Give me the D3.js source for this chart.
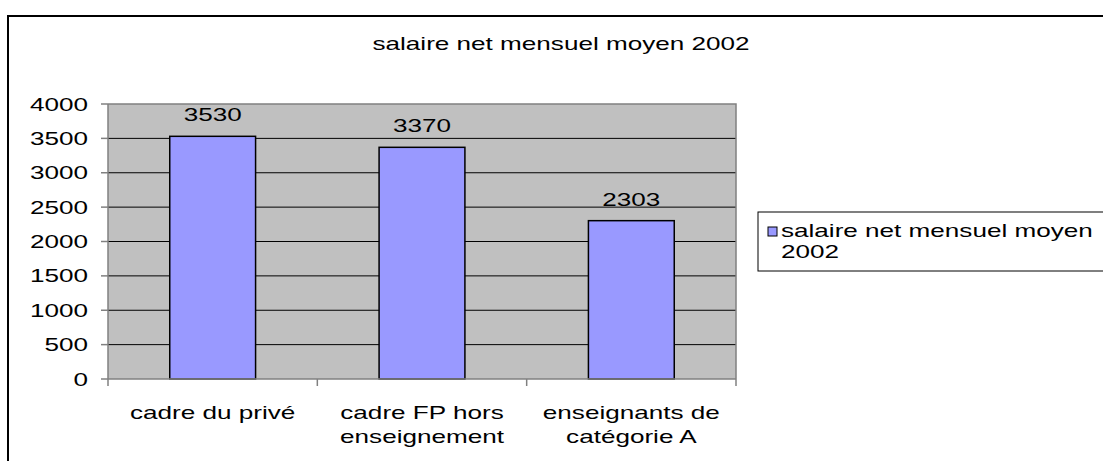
<!DOCTYPE html>
<html>
<head>
<meta charset="utf-8">
<script src="https://cdn.jsdelivr.net/npm/d3@7"></script>
<style>
  body { margin: 0; background: #fff; }
  text { font-family: "Liberation Sans", Arial, sans-serif; fill: #000; }
</style>
</head>
<body>
<div id="graph"></div>
<script>
var title = 'salaire net mensuel moyen 2002'
var categories = ['cadre du privé', 'cadre FP hors\nenseignement', 'enseignants de\ncatégorie A']
var values = [3530, 3370, 2303]
var yTicks = [0, 500, 1000, 1500, 2000, 2500, 3000, 3500, 4000]
var legendLines = ['salaire net mensuel moyen', '2002']

var SX = 1.45   // the original picture is stretched sideways
var FS = 18

var svg = d3.select('#graph').append('svg')
  .attr('width', 1103).attr('height', 461)

// outer chart border, runs off the right and bottom edge
svg.append('rect')
  .attr('x', 8).attr('y', 16).attr('width', 1200).attr('height', 500)
  .attr('fill', '#fff').attr('stroke', '#000').attr('stroke-width', 2)

function stext(g, x, y, str, anchor) {
  return g.append('text')
    .attr('transform', 'translate(' + x + ',' + y + ') scale(' + SX + ',1)')
    .attr('text-anchor', anchor || 'start')
    .style('font-size', FS + 'px')
    .text(str)
}

var x = d3.scaleBand().domain(categories).range([108, 736])
  .paddingInner(0.59).paddingOuter(0.295)
var y = d3.scaleLinear().domain([0, 4000]).range([379, 104])

// plot area
svg.append('rect')
  .attr('x', 108).attr('y', y(4000)).attr('width', 736 - 108).attr('height', y(0) - y(4000))
  .attr('fill', '#c0c0c0')

svg.selectAll('line.grid').data(yTicks.filter(d => d > 0 && d < 4000))
  .enter().append('line')
  .attr('x1', 108).attr('x2', 736)
  .attr('y1', d => y(d)).attr('y2', d => y(d))
  .attr('stroke', '#000').attr('stroke-width', 1)

// frame top and right
svg.append('path')
  .attr('d', 'M108,' + y(4000) + 'H736V' + y(0))
  .attr('fill', 'none').attr('stroke', '#808080').attr('stroke-width', 1.5)

// bars
svg.selectAll('rect.bar').data(values).enter().append('rect')
  .attr('class', 'bar')
  .attr('x', (d, i) => x(categories[i]))
  .attr('width', x.bandwidth())
  .attr('y', d => y(d))
  .attr('height', d => y(0) - y(d))
  .attr('fill', '#9999ff').attr('stroke', '#000').attr('stroke-width', 1.5)

// value labels
values.forEach((v, i) => {
  stext(svg, x(categories[i]) + x.bandwidth() / 2, y(v) - 15, v, 'middle')
})

// y axis
svg.append('line').attr('x1', 108).attr('x2', 108).attr('y1', y(4000)).attr('y2', y(0))
  .attr('stroke', '#808080').attr('stroke-width', 1.5)
yTicks.forEach(t => {
  svg.append('line').attr('x1', 101).attr('x2', 108).attr('y1', y(t)).attr('y2', y(t))
    .attr('stroke', '#808080').attr('stroke-width', 1.5)
  stext(svg, 88, y(t) + 6.5, t, 'end')
})

// x axis
svg.append('line').attr('x1', 108).attr('x2', 736).attr('y1', y(0)).attr('y2', y(0))
  .attr('stroke', '#808080').attr('stroke-width', 1.5)
var bounds = categories.map(c => x(c) - x.step() * x.paddingInner() / 2)
bounds.push(736)
bounds.forEach(b => {
  svg.append('line').attr('x1', b).attr('x2', b).attr('y1', y(0)).attr('y2', y(0) + 7)
    .attr('stroke', '#808080').attr('stroke-width', 1.5)
})
categories.forEach(c => {
  c.split('\n').forEach((line, j) => {
    stext(svg, x(c) + x.bandwidth() / 2, 419 + j * 24, line, 'middle')
  })
})

// title
stext(svg, 561, 50, title, 'middle')

// legend
svg.append('rect').attr('x', 758).attr('y', 212).attr('width', 500).attr('height', 59)
  .attr('fill', '#fff').attr('stroke', '#000').attr('stroke-width', 1)
svg.append('rect').attr('x', 768).attr('y', 227).attr('width', 9).attr('height', 9)
  .attr('fill', '#9999ff').attr('stroke', '#000').attr('stroke-width', 1)
legendLines.forEach((l, j) => {
  stext(svg, 781, 237 + j * 21, l)
})
</script>
</body>
</html>
